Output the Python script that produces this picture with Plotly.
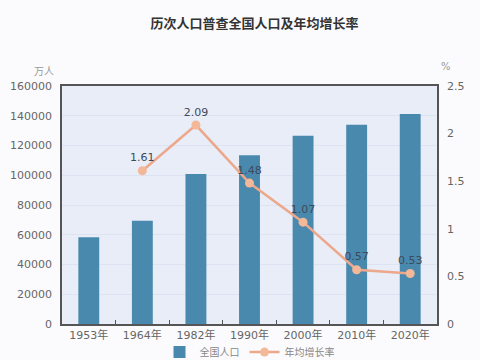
import plotly.graph_objects as go

years = ["1953年", "1964年", "1982年", "1990年", "2000年", "2010年", "2020年"]
population = [58260, 69458, 100818, 113368, 126583, 133972, 141178]
rate_years = ["1964年", "1982年", "1990年", "2000年", "2010年", "2020年"]
rates = [1.61, 2.09, 1.48, 1.07, 0.57, 0.53]

FONT = "DejaVu Sans, Noto Sans CJK SC"
fig = go.Figure()
fig.add_trace(go.Bar(x=years, y=population, name="全国人口",
                     marker=dict(color="#4a89ae", line=dict(width=0))))
fig.add_trace(go.Scatter(x=rate_years, y=rates, name="年均增长率", yaxis="y2",
                         mode="lines+markers+text", text=[f"{r:.2f}" for r in rates],
                         textposition="top center",
                         textfont=dict(size=11, color="#3d4a5c"),
                         line=dict(color="#eda78a", width=2.5),
                         marker=dict(color="#f3b898", size=9)))

fig.update_layout(
    width=480, height=360,
    margin=dict(l=62, r=43, t=86, b=36, autoexpand=False),
    paper_bgcolor="#fbfbfd", plot_bgcolor="#e9edf8",
    font=dict(family=FONT, size=11, color="#666"),
    title=dict(text="<b>历次人口普查全国人口及年均增长率</b>", x=0.53, xanchor="center",
               y=0.935, yanchor="middle",
               font=dict(family="Noto Sans CJK SC", size=13, color="#333")),
    bargap=0.61,
    showlegend=True,
    legend=dict(orientation="h", x=0.5, xanchor="center", y=-0.118, yanchor="middle",
                font=dict(size=10, color="#888", family="Noto Sans CJK SC"),
                bgcolor="rgba(0,0,0,0)", itemwidth=30, tracegroupgap=0),
    xaxis=dict(showline=True, linecolor="#555", linewidth=1.5, mirror=True,
               ticks="inside", tickson="boundaries", ticklen=4, tickcolor="#555",
               tickfont=dict(size=11, color="#666"), showgrid=False),
    yaxis=dict(range=[0, 160000], dtick=20000, showline=True, linecolor="#555",
               linewidth=1.5, gridcolor="#dde3f2", gridwidth=1, zeroline=False,
               tickfont=dict(size=11, color="#666"), ticks="", tickformat="d",
               ticklabelstandoff=6),
    yaxis2=dict(range=[0, 2.5], dtick=0.5, overlaying="y", side="right",
                showline=True, linecolor="#555", linewidth=1.5, showgrid=False,
                zeroline=False, tickfont=dict(size=11, color="#666"),
                ticklabelstandoff=6),
    annotations=[
        dict(text="万人", xref="paper", yref="paper", x=-0.048, y=1.067,
             xanchor="center", yanchor="middle",
             showarrow=False, font=dict(size=10, color="#999", family="Noto Sans CJK SC")),
        dict(text="%", xref="paper", yref="paper", x=1.024, y=1.08,
             xanchor="center", yanchor="middle",
             showarrow=False, font=dict(size=10, color="#999")),
    ],
)
fig.write_html("out.html", config={"displayModeBar": False},
               post_script="document.body.style.margin='0px';document.body.style.overflow='hidden';")
